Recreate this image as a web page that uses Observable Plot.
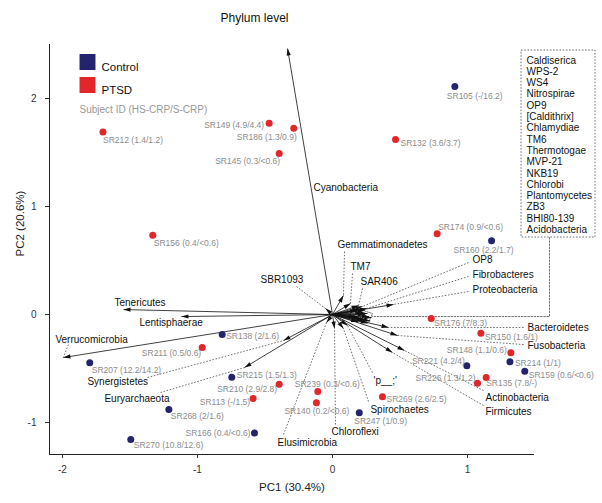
<!DOCTYPE html>
<html><head><meta charset="utf-8">
<script src="https://cdn.jsdelivr.net/npm/d3@7"></script>
<script src="https://cdn.jsdelivr.net/npm/@observablehq/plot@0.6"></script>
<style>body{margin:0;background:#fff}</style>
</head><body><div id="chart"></div>
<script>
// ---- subjects (scores) ----
const ids = ["SR105","SR212","SR149","SR186","SR145","SR132","SR156","SR174","SR160","SR176","SR150","SR138","SR211","SR207","SR215","SR210","SR113","SR268","SR166","SR270","SR239","SR140","SR247","SR269","SR148","SR214","SR159","SR221","SR226","SR135"];
const groups = ["Control","PTSD","PTSD","PTSD","PTSD","PTSD","PTSD","PTSD","Control","PTSD","PTSD","Control","PTSD","Control","Control","PTSD","PTSD","Control","Control","Control","PTSD","PTSD","Control","PTSD","PTSD","Control","Control","Control","PTSD","PTSD"];
const crp = ["-/16.2","1.4/1.2","4.9/4.4","1.3/0.9","0.3/<0.6","3.6/3.7","0.4/<0.6","0.9/<0.6","2.2/1.7","7/8.3","1.6/1","2/1.6","0.5/0.6","12.2/14.2","1.5/1.3","2.9/2.8","-/1.5","2/1.6","0.4/<0.6","10.8/12.6","0.3/<0.6","0.2/<0.6","1/0.9","2.6/2.5","1.1/0.6","1/1","0.6/<0.6","4.2/4","1.3/1.2","7.8/-"];
const pc1 = [0.906,-1.70,-0.469,-0.287,-0.395,0.467,-1.331,0.775,1.178,0.731,1.099,-0.817,-0.965,-1.798,-0.746,-0.395,-0.588,-1.212,-0.578,-1.494,-0.109,-0.119,0.198,0.370,1.321,1.314,1.424,0.995,1.074,1.138];
const pc2 = [2.11,1.69,1.77,1.725,1.49,1.62,0.734,0.747,0.682,-0.037,-0.173,-0.185,-0.306,-0.447,-0.580,-0.645,-0.778,-0.880,-1.096,-1.157,-0.713,-0.818,-0.910,-0.762,-0.355,-0.438,-0.525,-0.475,-0.636,-0.583];

// ---- phylum loadings (arrows) ----
const phyla = ["Cyanobacteria","Tenericutes","Lentisphaerae","Verrucomicrobia","Synergistetes","Euryarchaeota","SBR1093","Gemmatimonadetes","TM7","SAR406","OP8","Fibrobacteres","Proteobacteria","Bacteroidetes","Fusobacteria","Actinobacteria","Firmicutes","Spirochaetes","'p__;'","Chloroflexi","Elusimicrobia"];
const load1 = [-0.333,-1.548,-1.119,-1.993,-0.363,-0.652,-0.052,0.081,0.133,0.193,0.222,0.252,0.452,0.415,0.481,0.533,0.444,0.081,0.111,0.015,-0.044];
const load2 = [2.463,0.046,-0.019,-0.398,-0.241,-0.491,0.056,0.176,0.102,0.083,0.074,0.056,0.093,-0.120,-0.194,-0.333,-0.352,-0.130,-0.102,-0.130,-0.074];
// label anchor (data units) and leader start (null = no leader)
const labX = [-0.141,-1.615,-1.430,-2.052,-1.815,-1.689,-0.533,0.037,0.133,0.207,1.037,1.037,1.037,1.444,1.444,1.133,1.133,0.281,0.304,-0.007,-0.407];
const labY = [1.176,0.111,-0.074,-0.231,-0.620,-0.778,0.324,0.648,0.444,0.306,0.509,0.370,0.231,-0.120,-0.287,-0.769,-0.898,-0.880,-0.611,-1.083,-1.185];
const leadX = [null,null,null,-1.956,-1.370,-1.274,-0.267,0.089,0.148,0.222,1.007,1.007,1.007,1.415,1.415,1.119,1.119,0.267,0.296,0.022,-0.363];
const leadY = [null,null,null,-0.278,-0.583,-0.722,0.259,0.583,0.380,0.241,0.481,0.352,0.213,-0.120,-0.278,-0.704,-0.843,-0.806,-0.537,-1.019,-1.111];

// minor phyla grouped in the box
const boxPhyla = ["Caldiserica","WPS-2","WS4","Nitrospirae","OP9","[Caldithrix]","Chlamydiae","TM6","Thermotogae","MVP-21","NKB19","Chlorobi","Plantomycetes","ZB3","BHI80-139","Acidobacteria"];
const boxLoad1 = [0.22,0.24,0.20,0.25,0.18,0.23,0.27,0.19,0.26,0.21,0.28,0.17,0.24,0.20,0.26,0.29];
const boxLoad2 = [0.02,0.00,-0.03,-0.05,0.04,-0.06,-0.02,-0.07,0.01,-0.04,-0.06,-0.02,0.04,0.05,-0.08,-0.03];
const boxFrame = {x1:1.400, x2:1.948, y1:0.713, y2:2.444};
const boxTextAt = {x:1.437, y:2.398};
const boxLeader = [{x:1.607,y:0.713},{x:1.607,y:-0.019},{x:0.296,y:-0.019}];
const boxBracket = [{x:0.207,y:0.046},{x:0.296,y:0.009},{x:0.267,y:-0.074},{x:0.178,y:-0.037},{x:0.207,y:0.046}];

const xTicks = [-2,-1,0,1];
const yTicks = [-1,0,1,2];

// ---- layout / style ----
const W=602, H=503, mL=49, mR=68, mT=44, mB=49;
const xDom=[-2.096,1.496], yDom=[-1.296,2.5];
const kx=(W-mL-mR)/(xDom[1]-xDom[0]), ky=(H-mT-mB)/(yDom[1]-yDom[0]);
const colors = {Control:"#24246e", PTSD:"#e3262a"};
const labelStyle = {
 SR105:["start",-8,10], SR212:["start",0,8], SR149:["end",-5,2], SR186:["end",3,9], SR145:["end",1,8],
 SR132:["start",5,4], SR156:["start",1,8], SR174:["start",1,-7], SR160:["middle",-8,9], SR176:["start",3,5],
 SR150:["start",4,4], SR138:["start",4,2], SR211:["end",-1,6], SR207:["start",2,7], SR215:["start",5,-2],
 SR210:["end",-2,5], SR113:["end",-3,4], SR268:["start",2,7], SR166:["end",-4,0], SR270:["start",3,6],
 SR239:["start",-23,-7], SR140:["start",-32,8], SR247:["start",-5,8], SR269:["start",4,2], SR148:["end",-4,-3],
 SR214:["start",5,1], SR159:["start",4,4], SR221:["end",-2,-5], SR226:["end",-2,-5], SR135:["start",0,6]
};

const subjects = ids.map((id,i)=>({id, group:groups[i], x:pc1[i], y:pc2[i], label:`${id} (${crp[i]})`}));
const loadings = phyla.map((p,i)=>({name:p,x:load1[i],y:load2[i]}))
  .concat(boxPhyla.map((p,i)=>({name:p,x:boxLoad1[i],y:boxLoad2[i]})));
loadings.forEach(d=>{const sx=d.x*kx, sy=-d.y*ky; d.rot=Math.atan2(sx,-sy)*180/Math.PI;});
const phylumLabels = phyla.map((p,i)=>({name:p,x:labX[i],y:labY[i]}));
const leaders = phyla.map((p,i)=>({x1:leadX[i],y1:leadY[i],x2:load1[i],y2:load2[i]})).filter(d=>d.x1!==null);

const head = {draw(ctx,size){const s=Math.sqrt(size/Math.PI); ctx.moveTo(0,0); ctx.lineTo(-2.1*s,7*s); ctx.lineTo(2.1*s,7*s); ctx.closePath();}};
const fmt = d => String(d);

const dash = "1.6,1.6";
const marks = [
  Plot.ruleX([xDom[0]],{stroke:"#222",strokeWidth:1}),
  Plot.ruleY([yDom[0]],{stroke:"#222",strokeWidth:1}),
  Plot.axisX({ticks:xTicks, tickFormat:fmt, tickSize:4, tickPadding:7, label:null, fontSize:10, color:"#333"}),
  Plot.axisY({ticks:yTicks, tickFormat:fmt, tickSize:4, tickPadding:9, label:null, fontSize:10, color:"#333"}),
  Plot.text(["PC1 (30.4%)"],{frameAnchor:"bottom", dy:36, fontSize:11.5, fill:"#222"}),
  Plot.text(["PC2 (20.6%)"],{frameAnchor:"left", dx:-29, dy:7, rotate:-90, fontSize:11.5, fill:"#222"}),
  Plot.text(["Phylum level"],{frameAnchor:"top", dx:-37.5, dy:-31, fontSize:12, fill:"#111"}),
  // leaders
  Plot.link(leaders,{x1:"x1",y1:"y1",x2:"x2",y2:"y2",stroke:"#333",strokeWidth:0.7,strokeDasharray:dash}),
  Plot.rect([boxFrame],{x1:"x1",x2:"x2",y1:"y1",y2:"y2",fill:"none",stroke:"#333",strokeWidth:0.7,strokeDasharray:dash}),
  Plot.line(boxLeader,{x:"x",y:"y",stroke:"#333",strokeWidth:0.7,strokeDasharray:dash}),
  Plot.line(boxBracket,{x:"x",y:"y",stroke:"#333",strokeWidth:0.7,strokeDasharray:"1.2,1.2"}),
  // arrows
  Plot.link(loadings,{x1:()=>0,y1:()=>0,x2:"x",y2:"y",stroke:"#111",strokeWidth:0.8}),
  Plot.dot(loadings,{x:"x",y:"y",symbol:head,r:1,fill:"#111",stroke:"none",rotate:"rot"}),
  // phylum labels
  Plot.text(phylumLabels,{x:"x",y:"y",text:"name",textAnchor:"start",fontSize:10,fill:"#111"}),
  Plot.text([boxTextAt],{x:"x",y:"y",text:()=>boxPhyla.join("\n"),textAnchor:"start",lineAnchor:"top",lineHeight:1.13,fontSize:10,fill:"#111"}),
  // subjects
  Plot.dot(subjects,{x:"x",y:"y",r:3.5,fill:d=>colors[d.group],stroke:"none"}),
  ...subjects.map(d=>{const [a,dx,dy]=labelStyle[d.id]; return Plot.text([d],{x:"x",y:"y",text:"label",textAnchor:a,dx,dy,fontSize:8.5,fill:"#8c8c8c"});}),
  // legend
  Plot.dot([0],{frameAnchor:"top-left",dx:38,dy:17.5,symbol:"square",r:9,fill:colors.Control,stroke:"none"}),
  Plot.dot([0],{frameAnchor:"top-left",dx:38,dy:40.5,symbol:"square",r:9,fill:colors.PTSD,stroke:"none"}),
  Plot.text(["Control"],{frameAnchor:"top-left",dx:52,dy:18,textAnchor:"start",fontSize:11.5,fill:"#111"}),
  Plot.text(["PTSD"],{frameAnchor:"top-left",dx:52,dy:41,textAnchor:"start",fontSize:11.5,fill:"#111"}),
  Plot.text(["Subject ID (HS-CRP/S-CRP)"],{frameAnchor:"top-left",dx:30,dy:61,textAnchor:"start",fontSize:10,fill:"#999"})
];

const chart = Plot.plot({
  width:W, height:H, marginLeft:mL, marginRight:mR, marginTop:mT, marginBottom:mB,
  style:{fontFamily:"'Liberation Sans', Arial, Helvetica, sans-serif", background:"#fff", overflow:"visible"},
  x:{domain:xDom, axis:null},
  y:{domain:yDom, axis:null},
  marks
});
document.getElementById("chart").appendChild(chart);
</script>
</body></html>
